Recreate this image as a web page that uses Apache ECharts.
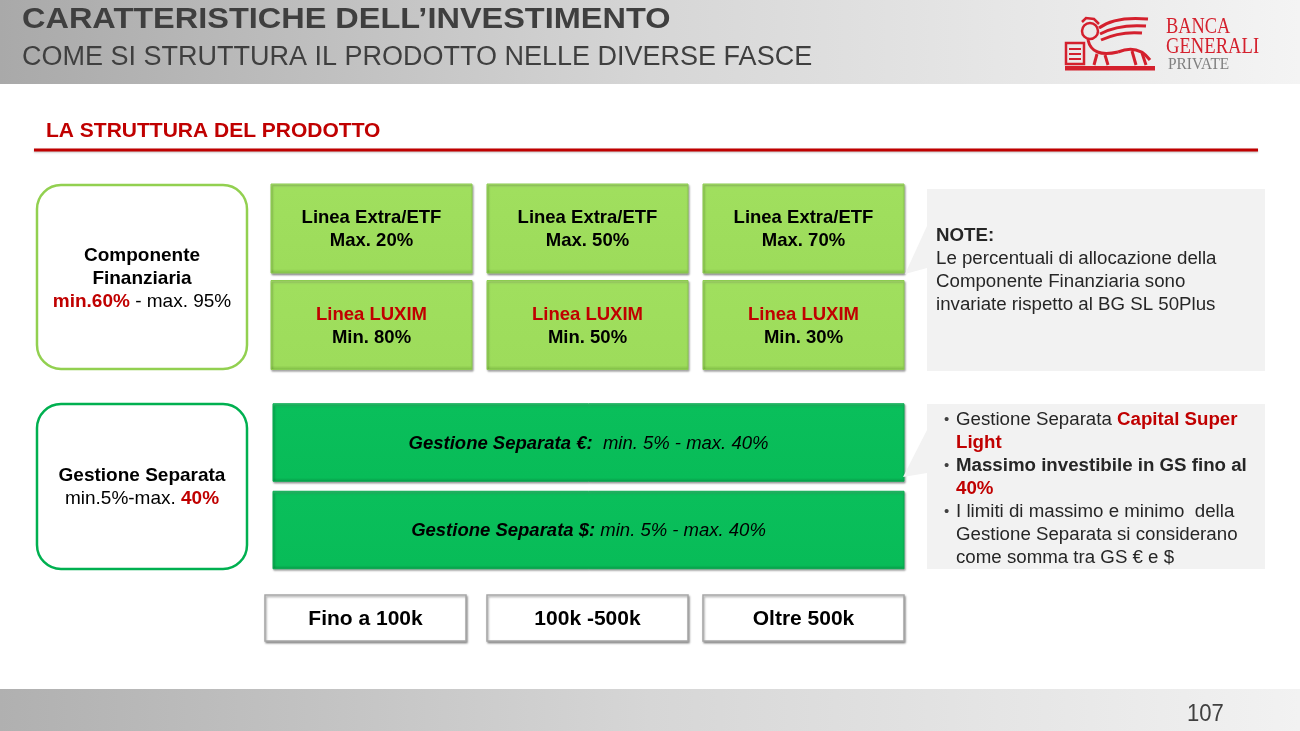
<!DOCTYPE html>
<html>
<head>
<meta charset="utf-8">
<script src="https://cdn.jsdelivr.net/npm/echarts@6/dist/echarts.min.js"></script>
<style>
html, body { margin: 0; padding: 0; background: #fff; }
#main { width: 1300px; height: 731px; }
</style>
</head>
<body>
<div id="main"></div>
<script>
// fasce di investimento (colonne)
const fasce = ['Fino a 100k', '100k -500k', 'Oltre 500k'];
// componente finanziaria: righe e percentuali per fascia
const righeCF = ['Linea Extra/ETF', 'Linea LUXIM'];
const extraMax = [20, 50, 70];
const luximMin = [80, 50, 30];
// gestione separata
const righeGS = ['Gestione Separata €:', 'Gestione Separata $:'];
const gsMin = [5, 5];
const gsMax = [40, 40];
// limiti complessivi
const cfRange = [60, 95];
const gsRange = [5, 40];
// testi note
const note1 = ['Le percentuali di allocazione della', 'Componente Finanziaria sono', 'invariate rispetto al BG SL 50Plus'];
const note2 = [
    [['n', 'Gestione Separata '], ['rb', 'Capital Super']],
    [['rb', 'Light']],
    [['b', 'Massimo investibile in GS fino al']],
    [['rb', '40%']],
    [['n', 'I limiti di massimo e minimo  della']],
    [['n', 'Gestione Separata si considerano']],
    [['n', 'come somma tra GS € e $']]
];
const bulletRows = [0, 2, 4];

const FONT = '"Liberation Sans", Arial, sans-serif';
const SERIF = '"Liberation Serif", "DejaVu Serif", serif';
const RED = '#c00000';
const LOGO = '#d4202d';

var dom = document.getElementById('main');
var myChart = echarts.init(dom, null, { renderer: 'canvas' });

var cfData = [];
for (var c = 0; c < fasce.length; c++) {
    cfData.push([c, 0, extraMax[c]]);
    cfData.push([c, 1, luximMin[c]]);
}
var gsData = righeGS.map(function (d, i) { return [0, i, gsMin[i], gsMax[i]]; });
var fasceData = fasce.map(function (d, i) { return [i, 0]; });

function greyGrad(a, b) {
    return new echarts.graphic.LinearGradient(0, 0, 1, 0, [
        { offset: 0, color: a },
        { offset: 0.5, color: '#d6d6d6' },
        { offset: 1, color: b }
    ]);
}

function boxShadow(style) {
    style.shadowColor = 'rgba(0,0,0,0.35)';
    style.shadowBlur = 2;
    style.shadowOffsetX = 1;
    style.shadowOffsetY = 1.5;
    return style;
}

function richSet(size, col) {
    return {
        b: { fontFamily: FONT, fontSize: size, fontWeight: 'bold', fill: col, lineHeight: 23 },
        rb: { fontFamily: FONT, fontSize: size, fontWeight: 'bold', fill: RED, lineHeight: 23 },
        n: { fontFamily: FONT, fontSize: size, fill: col, lineHeight: 23 },
        bi: { fontFamily: FONT, fontSize: size, fontWeight: 'bold', fontStyle: 'italic', fill: col },
        i: { fontFamily: FONT, fontSize: size, fontStyle: 'italic', fill: col }
    };
}
var boxRich = richSet(18.5, '#000');

option = {
    backgroundColor: '#fff',
    animation: false,
    grid: [
        { left: 263.5, width: 648, top: 180.25, height: 193 },
        { left: 263.5, width: 648, top: 398.75, height: 175 },
        { left: 263.5, width: 648, top: 595, height: 46 }
    ],
    xAxis: [0, 1, 2].map(function (i) {
        return { type: 'category', gridIndex: i, data: fasce, show: false };
    }),
    yAxis: [
        { type: 'category', gridIndex: 0, data: righeCF, inverse: true, show: false },
        { type: 'category', gridIndex: 1, data: righeGS, inverse: true, show: false },
        { type: 'category', gridIndex: 2, data: ['fascia'], show: false }
    ],
    series: [
        {
            type: 'custom',
            xAxisIndex: 0,
            yAxisIndex: 0,
            data: cfData,
            renderItem: function (params, api) {
                var p = api.coord([api.value(0), api.value(1)]);
                var s = api.size([1, 1]);
                var w = s[0] - 15, h = s[1] - 7.5;
                var row = api.value(1);
                var txt = row === 0
                    ? '{b|' + righeCF[0] + '}\n{b|Max. ' + api.value(2) + '%}'
                    : '{rb|' + righeCF[1] + '}\n{b|Min. ' + api.value(2) + '%}';
                return {
                    type: 'group',
                    children: [
                        {
                            type: 'rect',
                            shape: { x: p[0] - w / 2, y: p[1] - h / 2, width: w, height: h },
                            style: boxShadow({
                                fill: new echarts.graphic.LinearGradient(0, 0, 0, 1, [
                                    { offset: 0, color: '#b3ea78' },
                                    { offset: 0.05, color: '#a0df5e' },
                                    { offset: 0.95, color: '#9ddc5b' },
                                    { offset: 1, color: '#7fbc45' }
                                ]),
                                stroke: '#8ccb50',
                                lineWidth: 1
                            })
                        },
                        {
                            type: 'text',
                            style: {
                                x: p[0], y: p[1] + 1,
                                text: txt, rich: boxRich,
                                align: 'center', verticalAlign: 'middle'
                            }
                        }
                    ]
                };
            }
        },
        {
            type: 'custom',
            xAxisIndex: 1,
            yAxisIndex: 1,
            data: gsData,
            renderItem: function (params, api) {
                var i = api.value(1);
                var s = api.size([1, 1]);
                var a = api.coord([0, i]);
                var b = api.coord([fasce.length - 1, i]);
                var x0 = a[0] - s[0] / 2 + 9.5;
                var x1 = b[0] + s[0] / 2 - 7.5;
                var h = s[1] - 10;
                var gap = i === 0 ? '  ' : ' ';
                var txt = '{bi|' + righeGS[i] + '}{i|' + gap + 'min. ' + api.value(2) + '% - max. ' + api.value(3) + '%}';
                return {
                    type: 'group',
                    children: [
                        {
                            type: 'rect',
                            shape: { x: x0, y: a[1] - h / 2, width: x1 - x0, height: h },
                            style: boxShadow({
                                fill: new echarts.graphic.LinearGradient(0, 0, 0, 1, [
                                    { offset: 0, color: '#3ad47c' },
                                    { offset: 0.05, color: '#0abf5b' },
                                    { offset: 0.95, color: '#08bc58' },
                                    { offset: 1, color: '#079a47' }
                                ]),
                                stroke: '#09ab50',
                                lineWidth: 1
                            })
                        },
                        {
                            type: 'text',
                            style: {
                                x: (x0 + x1) / 2, y: a[1] + 1,
                                text: txt, rich: boxRich,
                                align: 'center', verticalAlign: 'middle'
                            }
                        }
                    ]
                };
            }
        },
        {
            type: 'custom',
            xAxisIndex: 2,
            yAxisIndex: 2,
            data: fasceData,
            renderItem: function (params, api) {
                var p = api.coord([api.value(0), 0]);
                var s = api.size([1, 1]);
                var w = s[0] - 15, h = s[1];
                // la prima casella nel riferimento è leggermente spostata a sinistra
                var shift = api.value(0) === 0 ? -6 : 0;
                return {
                    type: 'group',
                    children: [
                        {
                            type: 'rect',
                            shape: { x: p[0] - w / 2 + shift, y: p[1] - h / 2, width: w, height: h },
                            style: boxShadow({ fill: '#ffffff', stroke: '#a6a6a6', lineWidth: 1.5 })
                        },
                        {
                            type: 'text',
                            style: {
                                x: p[0] + shift, y: p[1] + 1,
                                text: fasce[api.value(0)],
                                fontFamily: FONT, fontSize: 21, fontWeight: 'bold', fill: '#000',
                                align: 'center', verticalAlign: 'middle'
                            }
                        }
                    ]
                };
            }
        }
    ],
    graphic: [
        // testata
        { type: 'rect', z: 0, shape: { x: 0, y: 0, width: 1300, height: 84 }, style: { fill: greyGrad('#a9a9a9', '#f4f4f4') } },
        { type: 'text', z: 5, x: 22, y: 5.5, scaleX: 1.12, style: { text: 'CARATTERISTICHE DELL\u2019INVESTIMENTO', fontFamily: FONT, fontSize: 29, fontWeight: 'bold', fill: '#3f3f3f' } },
        { type: 'text', z: 5, x: 22, y: 44, style: { text: 'COME SI STRUTTURA IL PRODOTTO NELLE DIVERSE FASCE', fontFamily: FONT, fontSize: 27, fill: '#3f3f3f' } },
        // logo
        {
            type: 'group', z: 5, children: [
                { type: 'rect', shape: { x: 1065, y: 66, width: 90, height: 4.5 }, style: { fill: LOGO } },
                { type: 'rect', shape: { x: 1066, y: 43, width: 18, height: 21 }, style: { fill: 'none', stroke: LOGO, lineWidth: 2.5 } },
                { type: 'polyline', shape: { points: [[1069, 49], [1081, 49]] }, style: { stroke: LOGO, lineWidth: 2 } },
                { type: 'polyline', shape: { points: [[1069, 54], [1081, 54]] }, style: { stroke: LOGO, lineWidth: 2 } },
                { type: 'polyline', shape: { points: [[1069, 59], [1081, 59]] }, style: { stroke: LOGO, lineWidth: 2 } },
                { type: 'circle', shape: { cx: 1090, cy: 31, r: 8 }, style: { fill: 'none', stroke: LOGO, lineWidth: 2.5 } },
                { type: 'polyline', shape: { points: [[1082, 22], [1086, 18], [1094, 19], [1099, 24]] }, style: { stroke: LOGO, lineWidth: 2.5, fill: 'none' } },
                { type: 'bezierCurve', shape: { x1: 1099, y1: 28, cpx1: 1115, cpy1: 16, x2: 1148, y2: 19 }, style: { stroke: LOGO, lineWidth: 3, fill: 'none' } },
                { type: 'bezierCurve', shape: { x1: 1100, y1: 34, cpx1: 1118, cpy1: 24, x2: 1146, y2: 26 }, style: { stroke: LOGO, lineWidth: 3, fill: 'none' } },
                { type: 'bezierCurve', shape: { x1: 1101, y1: 40, cpx1: 1120, cpy1: 31, x2: 1142, y2: 33 }, style: { stroke: LOGO, lineWidth: 3, fill: 'none' } },
                { type: 'bezierCurve', shape: { x1: 1088, y1: 40, cpx1: 1092, cpy1: 58, x2: 1118, y2: 52 }, style: { stroke: LOGO, lineWidth: 3, fill: 'none' } },
                { type: 'bezierCurve', shape: { x1: 1118, y1: 52, cpx1: 1138, cpy1: 44, x2: 1150, y2: 60 }, style: { stroke: LOGO, lineWidth: 3, fill: 'none' } },
                { type: 'polyline', shape: { points: [[1097, 54], [1094, 65]] }, style: { stroke: LOGO, lineWidth: 3 } },
                { type: 'polyline', shape: { points: [[1105, 55], [1108, 65]] }, style: { stroke: LOGO, lineWidth: 3 } },
                { type: 'polyline', shape: { points: [[1132, 51], [1136, 65]] }, style: { stroke: LOGO, lineWidth: 3 } },
                { type: 'polyline', shape: { points: [[1142, 53], [1146, 65]] }, style: { stroke: LOGO, lineWidth: 3 } }
            ]
        },
        { type: 'text', z: 5, x: 1166, y: 15.5, scaleX: 0.8, style: { text: 'BANCA', fontFamily: SERIF, fontSize: 23, fill: LOGO } },
        { type: 'text', z: 5, x: 1166, y: 35, scaleX: 0.81, style: { text: 'GENERALI', fontFamily: SERIF, fontSize: 23, fill: LOGO } },
        { type: 'text', z: 5, x: 1168, y: 57, scaleX: 0.96, style: { text: 'PRIVATE', fontFamily: SERIF, fontSize: 16, fill: '#7f7f7f' } },
        // titolo sezione
        { type: 'text', z: 5, x: 46, y: 121, style: { text: 'LA STRUTTURA DEL PRODOTTO', fontFamily: FONT, fontSize: 21, fontWeight: 'bold', fill: RED } },
        { type: 'line', z: 5, shape: { x1: 34, y1: 150, x2: 1258, y2: 150 }, style: { stroke: RED, lineWidth: 3, shadowColor: 'rgba(0,0,0,0.25)', shadowBlur: 2, shadowOffsetY: 1 } },
        // box di sinistra
        { type: 'rect', z: 5, shape: { x: 37, y: 185, width: 210, height: 184, r: 24 }, style: { fill: '#fff', stroke: '#92d050', lineWidth: 2.5 } },
        {
            type: 'text', z: 6, x: 142, y: 279,
            style: {
                text: '{b|Componente}\n{b|Finanziaria}\n{rb|min.' + cfRange[0] + '%}{n| - max. ' + cfRange[1] + '%}',
                align: 'center', verticalAlign: 'middle',
                rich: richSet(19, '#000')
            }
        },
        { type: 'rect', z: 5, shape: { x: 37, y: 404, width: 210, height: 165, r: 24 }, style: { fill: '#fff', stroke: '#00b050', lineWidth: 2.5 } },
        {
            type: 'text', z: 6, x: 142, y: 487,
            style: {
                text: '{b|Gestione Separata}\n{n|min.' + gsRange[0] + '%-max. }{rb|' + gsRange[1] + '%}',
                align: 'center', verticalAlign: 'middle',
                rich: richSet(19, '#000')
            }
        },
        // note
        { type: 'polygon', z: 4, shape: { points: [[927, 226], [905, 274], [927, 268]] }, style: { fill: '#f2f2f2' } },
        { type: 'rect', z: 4, shape: { x: 927, y: 189, width: 338, height: 182 }, style: { fill: '#f2f2f2' } },
        {
            type: 'text', z: 6, x: 936, y: 224.5,
            style: {
                text: '{b|NOTE:}\n' + note1.map(function (t) { return '{n|' + t + '}'; }).join('\n'),
                rich: richSet(18.7, '#262626')
            }
        },
        { type: 'polygon', z: 4, shape: { points: [[927, 430], [903, 477], [927, 473]] }, style: { fill: '#f2f2f2' } },
        { type: 'rect', z: 4, shape: { x: 927, y: 404, width: 338, height: 165 }, style: { fill: '#f2f2f2' } },
        {
            type: 'text', z: 6, x: 956, y: 408,
            style: {
                text: note2.map(function (line) {
                    return line.map(function (seg) { return '{' + seg[0] + '|' + seg[1] + '}'; }).join('');
                }).join('\n'),
                rich: richSet(18.7, '#262626')
            }
        }
    ].concat(bulletRows.map(function (r) {
        return { type: 'text', z: 6, x: 944, y: 408 + r * 23, style: { text: '\u2022', fontFamily: FONT, fontSize: 15, fill: '#404040', lineHeight: 23 } };
    })).concat([
        // piè di pagina
        { type: 'rect', z: 0, shape: { x: 0, y: 689, width: 1300, height: 42 }, style: { fill: greyGrad('#b0b0b0', '#f2f2f2') } },
        { type: 'text', z: 5, x: 1187, y: 702.5, scaleX: 0.92, style: { text: '107', fontFamily: FONT, fontSize: 24, fill: '#404040' } }
    ])
};

if (option && typeof option === 'object') {
    myChart.setOption(option, true);
}
</script>
</body>
</html>
